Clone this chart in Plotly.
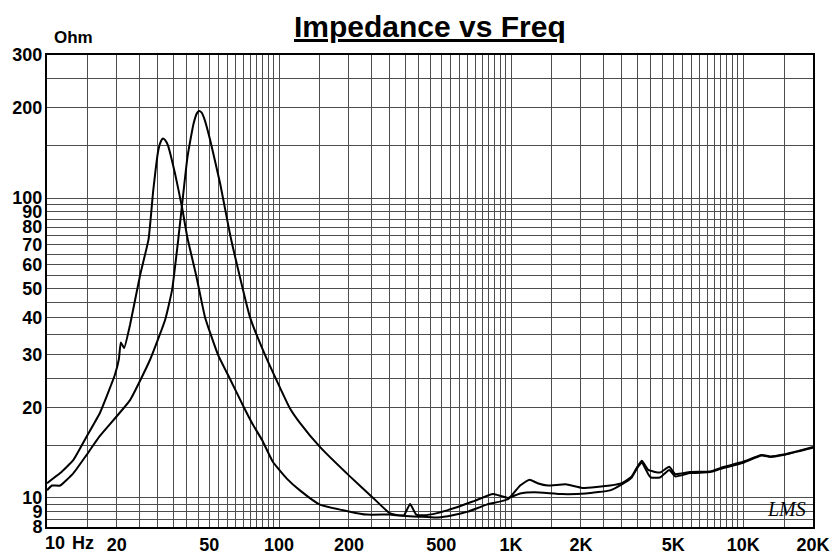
import numpy as np
import plotly.graph_objects as go

# ---- data (Hz, Ohm) ----
freq_a = [10, 11.4, 13.0, 14.8, 16.9, 19.6, 20.4, 20.8, 21.5, 22.8, 25.2, 27.4, 28.7, 30.2,
          31.0, 31.6, 32.3, 33.2, 35.6, 38.2, 40.3, 44, 48, 54.6, 62, 70, 77, 84.5, 94, 108, 123,
          150, 202, 238, 300, 345, 367, 390, 420, 480, 574, 700, 836, 970, 1094, 1260, 1660,
          2100, 2670, 3000, 3310, 3500, 3660, 3900, 4000, 4380, 4800, 5100, 5900, 7200, 8000,
          10000, 12000, 13100, 14900, 20000]
imp_a = [11.2, 12.1, 13.4, 16.0, 19.2, 25.7, 29.0, 33.0, 31.6, 37.8, 55.4, 73, 106, 145,
         155, 158, 156, 150, 121, 93, 73.6, 55, 40, 30, 24.6, 20.3, 17.6, 15.6, 13.2, 11.6, 10.6,
         9.5, 9.0, 8.8, 8.8, 8.75, 9.55, 8.8, 8.75, 8.9, 9.27, 9.8, 10.3, 10.0, 10.35, 10.45, 10.3,
         10.35, 10.6, 11.1, 11.7, 12.6, 13.1, 12.0, 11.7, 11.7, 12.4, 11.8, 12.1, 12.2, 12.5,
         13.1, 13.85, 13.7, 13.9, 14.7]

freq_b = [10, 10.5, 11.4, 13.0, 14.8, 16.9, 22.8, 27.8, 32.3, 34.6, 36.8, 40.3, 42.8, 44.3,
          45.2, 46.3, 47.5, 50.5, 55.7, 62.1, 75, 87, 111, 123, 150, 202, 251, 300, 350, 420,
          484, 560, 650, 785, 970, 1094, 1200, 1300, 1440, 1720, 2030, 2670, 3000, 3310, 3500,
          3660, 3900, 4380, 4800, 5100, 5900, 7200, 8000, 10000, 12000, 13100, 14900, 20000]
imp_b = [10.6, 11.0, 11.0, 12.1, 13.9, 16.1, 21.2, 28.9, 39.3, 49.4, 73, 137, 177, 192,
         195, 193, 185, 156, 112, 73, 40, 30, 20, 17.8, 14.8, 11.8, 10.1, 8.9, 8.7, 8.65,
         8.6, 8.75, 9.0, 9.5, 9.9, 11.0, 11.5, 11.2, 11.0, 11.1, 10.8, 11.0, 11.2, 11.8, 12.7,
         13.3, 12.4, 12.15, 12.7, 12.0, 12.2, 12.25, 12.6, 13.2, 13.9, 13.75, 13.95, 14.8]

# ---- axes: grid values and labels ----
x_grid = ([10 * k / 2 for k in range(2, 21)] + [100 * k / 2 for k in range(3, 21)]
          + [1000 * k / 2 for k in range(3, 21)] + [15000, 20000])
x_label_vals = [20, 50, 100, 200, 500, 1000, 2000, 5000, 10000, 20000]
x_label_text = ["20", "50", "100", "200", "500", "1K", "2K", "5K", "10K", "20K"]

y_grid = [8, 8.5, 9, 9.5] + [5 * k for k in range(2, 21)] + [150, 200, 250, 300]
y_label_vals = [8, 9, 10, 20, 30, 40, 50, 60, 70, 80, 90, 100, 200, 300]

x_text = [x_label_text[x_label_vals.index(v)] if v in x_label_vals else "" for v in x_grid]
y_text = [str(int(v)) if v in y_label_vals else "" for v in y_grid]

FONT = "Liberation Sans, Arial, sans-serif"
GRID = "#4d4d4d"

fig = go.Figure()
for f, z in [(freq_a, imp_a), (freq_b, imp_b)]:
    fig.add_trace(go.Scatter(x=f, y=z, mode="lines",
                             line=dict(color="black", width=2, shape="spline", smoothing=0.4),
                             showlegend=False, hoverinfo="skip"))

L, R, T, B = 47, 813, 55, 527
W, H = 840, 552

fig.update_layout(
    width=W, height=H, template="none",
    margin=dict(l=L, r=W - R, t=T, b=H - B, pad=0, autoexpand=False),
    paper_bgcolor="white", plot_bgcolor="white", showlegend=False,
    xaxis=dict(type="log", range=[1, np.log10(20000)], tickmode="array",
               tickvals=x_grid, ticktext=x_text, showgrid=True, gridcolor=GRID,
               gridwidth=1, ticks="", showline=True, linecolor="black", linewidth=2,
               mirror=True, zeroline=False, automargin=False, ticklabelstandoff=0,
               tickfont=dict(family=FONT, size=18, color="black", weight="bold")),
    yaxis=dict(type="log", range=[np.log10(8), np.log10(300)], tickmode="array",
               tickvals=y_grid, ticktext=y_text, showgrid=True, gridcolor=GRID,
               gridwidth=1, ticks="", showline=True, linecolor="black", linewidth=2,
               mirror=True, zeroline=False, automargin=False, ticklabelstandoff=-1,
               tickfont=dict(family=FONT, size=18, color="black", weight="bold")),
)

def px_x(px):
    return (px - L) / (R - L)

def px_y(py):
    return (B - py) / (B - T)

fig.add_annotation(text="<u>Impedance vs Freq</u>", xref="paper", yref="paper",
                   x=px_x(430), y=px_y(27), xanchor="center", yanchor="middle",
                   showarrow=False,
                   font=dict(family=FONT, size=30, color="black", weight="bold"))
fig.add_annotation(text="Ohm", xref="paper", yref="paper", x=px_x(52), y=px_y(38),
                   xanchor="left", yanchor="middle", showarrow=False,
                   font=dict(family=FONT, size=17, color="black", weight="bold"))
fig.add_annotation(text="10", xref="paper", yref="paper", x=px_x(55), y=px_y(543),
                   xanchor="center", yanchor="middle", showarrow=False,
                   font=dict(family=FONT, size=18, color="black", weight="bold"))
fig.add_annotation(text="Hz", xref="paper", yref="paper", x=px_x(83), y=px_y(543),
                   xanchor="center", yanchor="middle", showarrow=False,
                   font=dict(family=FONT, size=18, color="black", weight="bold"))
fig.add_annotation(text="<i>LMS</i>", xref="paper", yref="paper", x=px_x(786), y=px_y(509),
                   xanchor="center", yanchor="middle", showarrow=False,
                   font=dict(family="Liberation Serif, serif", size=20, color="black"))

fig.write_html("out.html", config={"displayModeBar": False},
               post_script="document.body.style.margin='0';document.body.style.overflow='hidden';")
